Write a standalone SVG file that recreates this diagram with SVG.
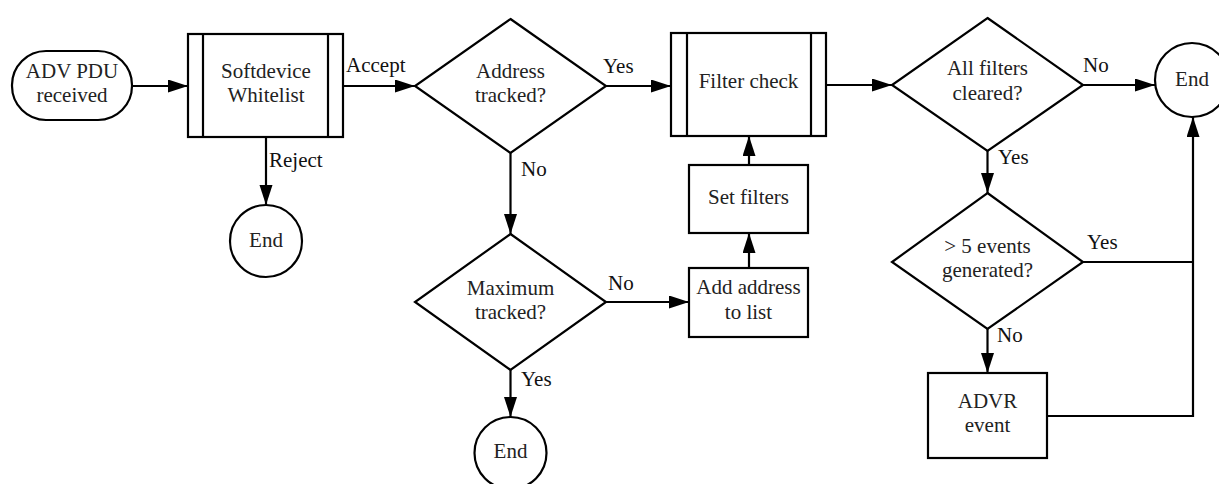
<svg xmlns="http://www.w3.org/2000/svg" width="1219" height="484" viewBox="0 0 1219 484">
<defs>
<style>
.shape{fill:#ffffff;stroke:#000000;stroke-width:2.2}
.conn{fill:none;stroke:#000000;stroke-width:2.2}
.t{font-family:"Liberation Serif","Times New Roman",serif;font-size:21px;fill:#222222;text-anchor:middle}
.lbl{font-family:"Liberation Serif","Times New Roman",serif;font-size:21px;fill:#111111}
</style>
<marker id="arr" markerUnits="userSpaceOnUse" markerWidth="21" markerHeight="14" refX="20" refY="6.5" orient="auto">
<path d="M0,0 L20,6.5 L0,13 z" fill="#000000"/>
</marker>
</defs>
<rect width="1219" height="484" fill="#ffffff"/>
<g id="connectors">
<path class="conn" d="M132,86 H188" marker-end="url(#arr)"/>
<path class="conn" d="M343,86 H415" marker-end="url(#arr)"/>
<path class="conn" d="M266,137 V205" marker-end="url(#arr)"/>
<path class="conn" d="M606,86 H671" marker-end="url(#arr)"/>
<path class="conn" d="M510.5,153 V234" marker-end="url(#arr)"/>
<path class="conn" d="M510.5,370 V417" marker-end="url(#arr)"/>
<path class="conn" d="M606,302 H689" marker-end="url(#arr)"/>
<path class="conn" d="M749,268 V233" marker-end="url(#arr)"/>
<path class="conn" d="M749,165 V136" marker-end="url(#arr)"/>
<path class="conn" d="M826,85 H892" marker-end="url(#arr)"/>
<path class="conn" d="M1083,85 H1155" marker-end="url(#arr)"/>
<path class="conn" d="M987.5,151 V193" marker-end="url(#arr)"/>
<path class="conn" d="M1083,262 H1193"/>
<path class="conn" d="M987.5,329 V373" marker-end="url(#arr)"/>
<path class="conn" d="M1047,416 H1193 V117" marker-end="url(#arr)"/>
<text class="lbl" x="346" y="72">Accept</text>
<text class="lbl" x="269" y="167">Reject</text>
<text class="lbl" x="603" y="73">Yes</text>
<text class="lbl" x="521" y="176">No</text>
<text class="lbl" x="608" y="290">No</text>
<text class="lbl" x="521" y="386">Yes</text>
<text class="lbl" x="1083" y="72">No</text>
<text class="lbl" x="998" y="164">Yes</text>
<text class="lbl" x="1087" y="249">Yes</text>
<text class="lbl" x="997" y="342">No</text>
</g>
<g id="start">
<rect class="shape" x="12" y="51" width="120" height="69" rx="34" ry="34"/>
<text class="t" x="72" y="78">ADV PDU</text>
<text class="t" x="72" y="102">received</text>
</g>
<g id="softdevice">
<rect class="shape" x="188" y="34" width="155" height="103"/>
<line class="conn" x1="203" y1="34" x2="203" y2="137"/>
<line class="conn" x1="328" y1="34" x2="328" y2="137"/>
<text class="t" x="266" y="78">Softdevice</text>
<text class="t" x="266" y="102">Whitelist</text>
</g>
<g id="end1">
<circle class="shape" cx="266" cy="241" r="36"/>
<text class="t" x="266" y="247">End</text>
</g>
<g id="address">
<polygon class="shape" points="510.5,19 606,86 510.5,153 415,86"/>
<text class="t" x="510.5" y="78">Address</text>
<text class="t" x="510.5" y="102">tracked?</text>
</g>
<g id="maximum">
<polygon class="shape" points="510.5,234 606,302 510.5,370 415,302"/>
<text class="t" x="510.5" y="295">Maximum</text>
<text class="t" x="510.5" y="319">tracked?</text>
</g>
<g id="end2">
<circle class="shape" cx="510.5" cy="453" r="36"/>
<text class="t" x="510.5" y="458">End</text>
</g>
<g id="filtercheck">
<rect class="shape" x="671" y="33" width="155" height="103"/>
<line class="conn" x1="687" y1="33" x2="687" y2="136"/>
<line class="conn" x1="811" y1="33" x2="811" y2="136"/>
<text class="t" x="748.5" y="88">Filter check</text>
</g>
<g id="setfilters">
<rect class="shape" x="689" y="165" width="119" height="68"/>
<text class="t" x="748.5" y="204">Set filters</text>
</g>
<g id="addaddress">
<rect class="shape" x="689" y="268" width="119" height="69"/>
<text class="t" x="748.5" y="294">Add address</text>
<text class="t" x="748.5" y="319">to list</text>
</g>
<g id="allfilters">
<polygon class="shape" points="987.5,18 1083,85 987.5,151 892,85"/>
<text class="t" x="987.5" y="75">All filters</text>
<text class="t" x="987.5" y="100">cleared?</text>
</g>
<g id="end3">
<circle class="shape" cx="1192" cy="80" r="37"/>
<text class="t" x="1192" y="86">End</text>
</g>
<g id="events">
<polygon class="shape" points="987.5,193 1083,262 987.5,329 892,262"/>
<text class="t" x="987.5" y="253">&gt; 5 events</text>
<text class="t" x="987.5" y="277">generated?</text>
</g>
<g id="advr">
<rect class="shape" x="928" y="373" width="119" height="85"/>
<text class="t" x="987.5" y="408">ADVR</text>
<text class="t" x="987.5" y="432">event</text>
</g>
</svg>
